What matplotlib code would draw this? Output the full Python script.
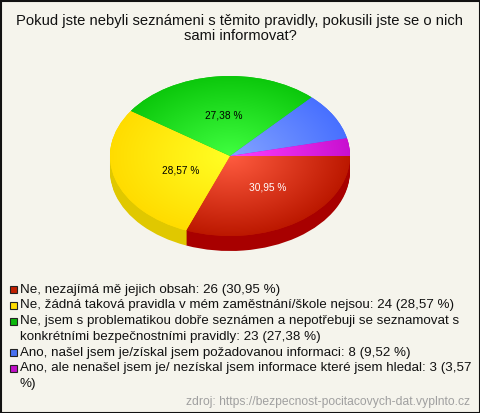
#!/usr/bin/env python3
import numpy as np
import matplotlib
matplotlib.use("Agg")
import matplotlib.pyplot as plt
import matplotlib.colors as mcolors
from matplotlib.patches import Rectangle

plt.rcParams['font.family'] = ['Liberation Sans', 'DejaVu Sans']

W, H = 480, 413
BG = '#f5f4ec'

title = ["Pokud jste nebyli seznámeni s těmito pravidly, pokusili jste se o nich", "sami informovat?"]
source = "zdroj: https://bezpecnost-pocitacovych-dat.vyplnto.cz"

counts = [26, 24, 23, 8, 3]
pct_labels = ["30,95 %", "28,57 %", "27,38 %", "", ""]
legend_labels = [
    "Ne, nezajímá mě jejich obsah: 26 (30,95 %)",
    "Ne, žádná taková pravidla v mém zaměstnání/škole nejsou: 24 (28,57 %)",
    "Ne, jsem s problematikou dobře seznámen a nepotřebuji se seznamovat s\nkonkrétními bezpečnostními pravidly: 23 (27,38 %)",
    "Ano, našel jsem je/získal jsem požadovanou informaci: 8 (9,52 %)",
    "Ano, ale nenašel jsem je/ nezískal jsem informace které jsem hledal: 3 (3,57\n%)",
]

center_cols = ['#ff5c40', '#ffff24', '#40ff40', '#84a4ff', '#ff40ff']
edge_cols = ['#bc1800', '#ffdc00', '#0cc80c', '#4870ff', '#c810d0']
side_cols = ['#a80000', '#e0c800', '#0a9a0a', '#3050c0', '#a000a0']
legend_cols = ['#c02000', '#ffdc00', '#0cb80c', '#4870f0', '#c010c8']
pct_cols = ['white', 'black', 'black', 'black', 'black']

# pie geometry in pixels, y is squashed by working in a stretched data space
CX, CY, RX, RY, DEPTH = 230, 156, 120, 80, 15
YS = RX / RY

fig = plt.figure(figsize=(W / 100, H / 100), dpi=100, facecolor=BG)
ax = fig.add_axes([0, 0, 1, 1])


def py(y):
    return (H - y) * YS


# side of the pie
for d in range(DEPTH, 0, -1):
    ax.pie(counts, colors=side_cols, startangle=0, counterclock=False, radius=RX,
           center=(CX, py(CY + d)), wedgeprops=dict(linewidth=0), frame=True)

# top with a radial gradient clipped by each wedge
wedges, _ = ax.pie(counts, colors=edge_cols, startangle=0, counterclock=False, radius=RX,
                   center=(CX, py(CY)), wedgeprops=dict(linewidth=0), frame=True)
xs, ys = np.meshgrid(np.linspace(-1, 1, 480), np.linspace(-1, 1, 320))
t = np.clip(np.hypot(xs, ys), 0, 1)[..., None]
for w, c0, c1 in zip(wedges, center_cols, edge_cols):
    img = np.array(mcolors.to_rgb(c0)) * (1 - t) + np.array(mcolors.to_rgb(c1)) * t
    im = ax.imshow(img, extent=(CX - RX, CX + RX, py(CY) - RX, py(CY) + RX),
                   origin='lower', aspect='auto', interpolation='bilinear', zorder=3)
    im.set_clip_path(w)

ax.set_aspect('auto')
ax.set_xlim(0, W)
ax.set_ylim(0, H * YS)
ax.set_axis_off()


def tx(x, y, s, **kw):
    fig.text(x / W, 1 - y / H, s, **kw)


tx(240, 20.8, title[0], ha='center', va='center', fontsize=10.63, color='#111111')
tx(240, 36.2, title[1], ha='center', va='center', fontsize=10.63, color='#111111')

pct_pos = [(268, 187), (181, 170), (224, 115)]
for (x, y), s, c in zip(pct_pos, pct_labels, pct_cols):
    tx(x, y, s, ha='center', va='center', fontsize=7.3, color=c)

# legend, a wrapped entry takes two rows
row_y = 289.6
for lab, c in zip(legend_labels, legend_cols):
    fig.add_artist(Rectangle((9.5 / W, 1 - (row_y + 3.6) / H), 7 / W, 7 / H, transform=fig.transFigure,
                             facecolor=c, edgecolor='#222222', linewidth=0.8))
    for line in lab.split("\n"):
        tx(20, row_y, line, ha='left', va='center', fontsize=9.67, color='#111111')
        row_y += 15.6
    row_y += 0.2

tx(470, 401.6, source, ha='right', va='center', fontsize=8.76, color='#a0a0a0')

fig.add_artist(Rectangle((0.5 / W, 0.5 / H), (W - 1) / W, (H - 1) / H, transform=fig.transFigure,
                         facecolor='none', edgecolor='#111111', linewidth=1.5))

fig.savefig("out.png", dpi=100, facecolor=BG)
